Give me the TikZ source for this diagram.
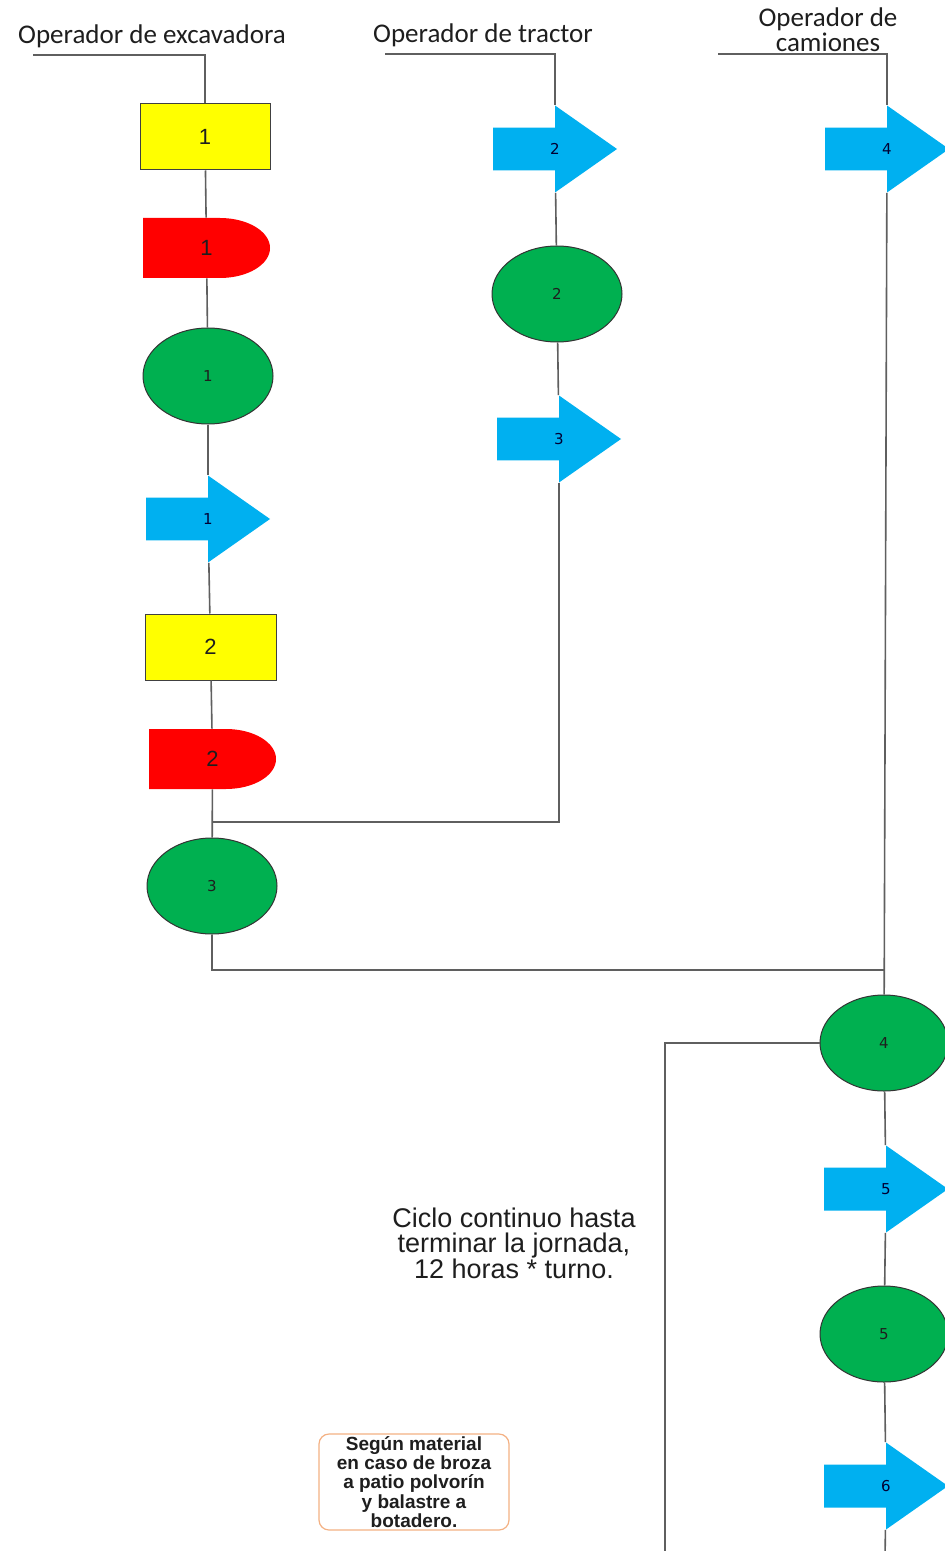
\documentclass[tikz,border=0pt]{standalone}
\usepackage{fontspec}
\setmainfont{Liberation Sans}
\newfontfamily\hdrfont{Carlito}
\newfontfamily\numfont{DejaVu Sans}
\usetikzlibrary{shapes.geometric,calc}
\definecolor{ybox}{RGB}{255,255,0}
\definecolor{rdelay}{RGB}{255,0,0}
\definecolor{gop}{RGB}{0,176,80}
\definecolor{btr}{RGB}{0,176,240}
\definecolor{lineg}{RGB}{95,95,95}
\definecolor{noteor}{RGB}{244,177,131}
\definecolor{txt}{RGB}{30,30,30}
\tikzset{
  conn/.style={draw=lineg, line width=0.8pt},
  hdr/.style={font=\hdrfont\fontsize{13.5}{12.5}\selectfont, text=txt, inner sep=0pt, align=center},
  opbox/.style={rectangle, draw=black!75, line width=0.5pt, fill=ybox, minimum width=65pt, minimum height=33pt, inner sep=0pt, text=txt, font=\fontsize{11}{13}\selectfont},
  opcirc/.style={ellipse, draw=black!80, line width=0.5pt, fill=gop, minimum width=65pt, minimum height=48pt, inner sep=0pt, text=txt, font=\numfont\fontsize{7.5}{9}\selectfont},
  delayshape/.style={rectangle, inner sep=0pt, minimum width=63.5pt, minimum height=30pt, text=txt, font=\fontsize{11}{13}\selectfont,
    path picture={\fill[rdelay] (path picture bounding box.north west) -- ($(path picture bounding box.north east)+(-25pt,0pt)$) arc[start angle=90,end angle=-90,x radius=25pt,y radius=15pt] -- (path picture bounding box.south west) -- cycle;}},
  transp/.style={rectangle, inner sep=0pt, minimum width=62pt, minimum height=43.5pt, text=black!80!blue, font=\numfont\fontsize{7.5}{9}\selectfont,
    path picture={\fill[btr] ($(path picture bounding box.north west)!0.253!(path picture bounding box.south west)$) -- ($(path picture bounding box.north)!0.253!(path picture bounding box.south)$) -- (path picture bounding box.north) -- (path picture bounding box.east) -- (path picture bounding box.south) -- ($(path picture bounding box.north)!0.747!(path picture bounding box.south)$) -- ($(path picture bounding box.north west)!0.747!(path picture bounding box.south west)$) -- cycle;}},
  notebox/.style={rectangle, rounded corners=5pt, draw=noteor, line width=0.6pt, fill=white, minimum width=95pt, minimum height=48pt, inner sep=0pt, align=center, text=txt, font=\bfseries\fontsize{9.5}{9.6}\selectfont}
}
\begin{document}
\begin{tikzpicture}[x=0.5pt,y=-0.5pt]
\useasboundingbox (0,0) rectangle (945,1551);
\clip (0,0) rectangle (945,1551);
\fill[white] (0,0) rectangle (945,1551);
% headers
\node[hdr] (h1) at (152,36) {Operador de excavadora};
\node[hdr] (h2) at (483,35) {Operador de tractor};
\node[hdr] (h3) at (828,30) {Operador de\\camiones};
\coordinate (s1) at (33,55);
\coordinate (s2) at (385,54);
\coordinate (s3) at (718,54);
% column 1
\node[opbox] (r1) at (205,137) {1};
\node[delayshape] (d1) at (206.5,248) {1};
\node[opcirc] (c1) at (208,376) {1};
\node[transp] (a1) at (208,519) {1};
\node[opbox, minimum width=65.5pt] (r2) at (210.5,647) {2};
\node[delayshape] (d2) at (212.5,759) {2};
\node[opcirc] (c3) at (212,886) {3};
% column 2
\node[transp] (a2) at (555,149) {2};
\node[opcirc] (c2) at (557,294) {2};
\node[transp] (a3) at (559,439) {3};
% column 3
\node[transp] (a4) at (887,149) {4};
\node[opcirc, minimum width=64pt] (c4) at (884,1043) {4};
\node[transp] (a5) at (886,1189) {5};
\node[opcirc, minimum width=64pt] (c5) at (884,1334) {5};
\node[transp] (a6) at (886,1486) {6};
% junctions and ends
\coordinate (j1) at (212,822);
\coordinate (j3) at (885,970);
\coordinate (loopend) at (665,1560);
\coordinate (end3) at (885,1560);
% texts
\node[align=center, text=txt, font=\fontsize{13.5}{12.75}\selectfont, inner sep=0pt] (ciclo) at (514,1243) {Ciclo continuo hasta\\terminar la jornada,\\12 horas * turno.};
\node[notebox] (nota) at (414,1482) {Según material\\en caso de broza\\a patio polvorín\\y balastre a\\botadero.};
% connectors
\draw[conn] (s1) -| (r1.north);
\draw[conn] (s2) -| (a2.north);
\draw[conn] (s3) -| (a4.north);
\draw[conn] (r1) -- (d1);
\draw[conn] (d1) -- (c1);
\draw[conn] (c1) -- (a1);
\draw[conn] (a1) -- (r2);
\draw[conn] (r2) -- (d2);
\draw[conn] (d2) -- (c3);
\draw[conn] (a2) -- (c2);
\draw[conn] (c2) -- (a3);
\draw[conn] (a3.south) |- (j1);
\draw[conn] (c3.south) |- (j3);
\draw[conn] (a4) -- (c4);
\draw[conn] (c4.west) -| (loopend);
\draw[conn] (c4) -- (a5);
\draw[conn] (a5) -- (c5);
\draw[conn] (c5) -- (a6);
\draw[conn] (a6) -- (end3);
\end{tikzpicture}
\end{document}
